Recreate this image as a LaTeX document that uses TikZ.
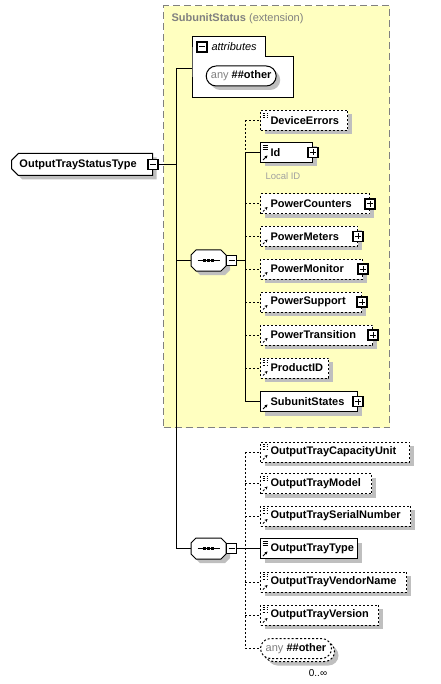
\documentclass[tikz,border=0pt]{standalone}
\usepackage{fontspec}
\setmainfont{Liberation Sans}
\usetikzlibrary{shapes,shadows,arrows.meta}

\definecolor{extfill}{HTML}{FFFFC0}
\definecolor{extline}{HTML}{808080}
\definecolor{notegray}{HTML}{A0A0A0}

\newcommand\eqicon{\draw[line width=0.8pt] ([shift={(2pt,-2.5pt)}]path picture bounding box.north west) -- +(5pt,0pt) +(0pt,-2.2pt) -- +(5pt,-2.2pt) +(0pt,-4.4pt) -- +(5pt,-4.4pt);}
\newcommand\reficon{\draw[line width=1pt,-{Stealth[length=3pt,width=3pt]}] ([shift={(2.5pt,2.5pt)}]path picture bounding box.south west) -- +(4.5pt,4.5pt);}
% octagon of a sequence compositor, drawn round an empty node
\newcommand\seqshape[1]{%
  \fill[black!25] ([shift={(9pt,-4pt)}]#1.north west) -- ([shift={(-1pt,-4pt)}]#1.north east)
    -- ([shift={(4pt,-9pt)}]#1.north east) -- ([shift={(4pt,1pt)}]#1.south east)
    -- ([shift={(-1pt,-4pt)}]#1.south east) -- ([shift={(9pt,-4pt)}]#1.south west)
    -- ([shift={(4pt,1pt)}]#1.south west) -- ([shift={(4pt,-9pt)}]#1.north west) -- cycle;
  \draw[fill=white] ([xshift=5pt]#1.north west) -- ([xshift=-5pt]#1.north east)
    -- ([yshift=-5pt]#1.north east) -- ([yshift=5pt]#1.south east)
    -- ([xshift=-5pt]#1.south east) -- ([xshift=5pt]#1.south west)
    -- ([yshift=5pt]#1.south west) -- ([yshift=-5pt]#1.north west) -- cycle;
  \draw ([xshift=-11pt]#1.center) -- ([xshift=11pt]#1.center);
  \fill ([xshift=-4pt]#1.center) +(-1.5pt,-1.5pt) rectangle +(1.5pt,1.5pt);
  \fill (#1.center) +(-1.5pt,-1.5pt) rectangle +(1.5pt,1.5pt);
  \fill ([xshift=4pt]#1.center) +(-1.5pt,-1.5pt) rectangle +(1.5pt,1.5pt);}

\tikzset{
  shade4/.style={general shadow={fill=black!25, shadow xshift=4pt, shadow yshift=-4pt}},
  elem/.style={draw, fill=white, font=\bfseries, anchor=west, align=left, text width=#1,
    minimum height=20pt, inner xsep=10pt, inner ysep=0pt, shade4},
  optdash/.style={dash pattern=on 2pt off 2pt},
  eqonly/.style={path picture={\eqicon}},
  refonly/.style={path picture={\reficon}},
  eqref/.style={path picture={\eqicon\reficon}},
  pm/.style={draw, fill=white, line width=1.3pt, minimum size=10pt, inner sep=0pt},
  plusbox/.style={pm, path picture={\draw[line width=1pt]
    ([xshift=2pt]path picture bounding box.west) -- ([xshift=-2pt]path picture bounding box.east)
    ([yshift=-2pt]path picture bounding box.north) -- ([yshift=2pt]path picture bounding box.south);}},
  minusbox/.style={pm, path picture={\draw[line width=1pt]
    ([xshift=2pt]path picture bounding box.west) -- ([xshift=-2pt]path picture bounding box.east);}},
  seqbox/.style={anchor=west, minimum width=34pt, minimum height=20pt, inner sep=0pt},
  anyelem/.style={rounded rectangle, draw, fill=white, anchor=west, minimum width=#1,
    minimum height=20pt, inner xsep=2pt, inner ysep=0pt, shade4}
}

\begin{document}
\fontsize{11}{13}\selectfont
\begin{tikzpicture}[x=1pt,y=-1pt,line width=1pt]
\useasboundingbox (0,0) rectangle (440,684);

% extension area
\node[draw=extline, fill=extfill, line width=1.2pt, dash pattern=on 7pt off 4pt, anchor=north west,
  minimum width=226pt, minimum height=422pt] (SubunitStatus) at (163,5) {};
\node[anchor=west, text=extline, inner sep=0pt] (SubunitStatusTitle) at (171,19) {\bfseries SubunitStatus \mdseries(extension)};

% root
\node[chamfered rectangle, chamfered rectangle corners={north west,south west}, chamfered rectangle xsep=3pt,
  draw, fill=white, font=\bfseries, anchor=west, align=left, text width=125pt, inner xsep=5pt, inner ysep=0pt,
  minimum height=22pt, shade4] (OutputTrayStatusType) at (11,164.5) {OutputTrayStatusType};
\node[minusbox] (OutputTrayStatusTypeMinus) at (OutputTrayStatusType.east) {};

% attributes
\node[anchor=north west, minimum width=100pt, minimum height=40pt, inner sep=0pt] (attrBody) at (192,57) {};
\node[anchor=south west, minimum width=72pt, minimum height=19pt, inner sep=0pt] (attrTab) at (192,57) {};
\draw[fill=white] (attrTab.south west) |- (attrTab.north east) |- (attrBody.north east) |- (attrBody.south west) -- cycle;
\node[minusbox] (attrMinus) at ([xshift=10pt]attrTab.west) {};
\node[anchor=west, font=\itshape, inner sep=0pt] (attrLabel) at ([xshift=19pt]attrTab.west) {attributes};
\node[anyelem=74pt] (attrAny) at (205.7,76) {\textcolor{gray}{any} \textbf{\#\#other}};

% trunk
\coordinate (trunk) at (176,68.5);
\node[seqbox] (seq1) at (191,260.5) {};
\seqshape{seq1}
\node[minusbox, anchor=west] (seq1Minus) at (seq1.east) {};
\node[seqbox] (seq2) at (191,548.5) {};
\seqshape{seq2}
\node[minusbox, anchor=west] (seq2Minus) at (seq2.east) {};
\draw (OutputTrayStatusTypeMinus.east) -- (OutputTrayStatusTypeMinus.east -| trunk);
\draw (attrBody.west |- trunk) -- (trunk) |- (seq2.west);
\draw (seq1.west -| trunk) -- (seq1.west);

% first sequence
\node[elem=67pt, optdash, eqonly] (DeviceErrors) at (260,120.5) {DeviceErrors};
\node[elem=32pt, eqref] (Id) at (260,152.5) {Id};
\node[plusbox] (IdPlus) at (Id.east) {};
\node[anchor=west, text=notegray, inner sep=0pt, font=\fontsize{9.5}{11}\selectfont] (IdNote) at (265,176) {Local ID};
\node[elem=89pt, optdash, refonly] (PowerCounters) at (260,204) {PowerCounters};
\node[plusbox] (PowerCountersPlus) at (PowerCounters.east) {};
\node[elem=77pt, optdash, refonly] (PowerMeters) at (260,236.5) {PowerMeters};
\node[plusbox] (PowerMetersPlus) at (PowerMeters.east) {};
\node[elem=82pt, optdash, refonly] (PowerMonitor) at (260,269) {PowerMonitor};
\node[plusbox] (PowerMonitorPlus) at (PowerMonitor.east) {};
\node[elem=81pt, optdash, refonly] (PowerSupport) at (260,302) {PowerSupport};
\node[plusbox] (PowerSupportPlus) at (PowerSupport.east) {};
\node[elem=92pt, optdash, refonly] (PowerTransition) at (260,335) {PowerTransition};
\node[plusbox] (PowerTransitionPlus) at (PowerTransition.east) {};
\node[elem=48pt, optdash, eqref] (ProductID) at (260,368) {ProductID};
\node[elem=77pt, refonly] (SubunitStates) at (260,401.5) {SubunitStates};
\node[plusbox] (SubunitStatesPlus) at (SubunitStates.east) {};

\coordinate (bus1) at (245,260.5);
\draw (seq1Minus.east) -- (bus1);
\draw[optdash] (DeviceErrors.west -| bus1) -- (Id.west -| bus1);
\draw (Id.west -| bus1) -- (SubunitStates.west -| bus1);
\draw[optdash] (DeviceErrors.west -| bus1) -- (DeviceErrors.west);
\draw (Id.west -| bus1) -- (Id.west);
\draw[optdash] (PowerCounters.west -| bus1) -- (PowerCounters.west);
\draw[optdash] (PowerMeters.west -| bus1) -- (PowerMeters.west);
\draw[optdash] (PowerMonitor.west -| bus1) -- (PowerMonitor.west);
\draw[optdash] (PowerSupport.west -| bus1) -- (PowerSupport.west);
\draw[optdash] (PowerTransition.west -| bus1) -- (PowerTransition.west);
\draw[optdash] (ProductID.west -| bus1) -- (ProductID.west);
\draw (SubunitStates.west -| bus1) -- (SubunitStates.west);

% second sequence
\node[elem=129pt, optdash, eqref] (OutputTrayCapacityUnit) at (260,452) {OutputTrayCapacityUnit};
\node[elem=91pt, optdash, eqref] (OutputTrayModel) at (260,483.5) {OutputTrayModel};
\node[elem=130pt, optdash, eqref] (OutputTraySerialNumber) at (260,516) {OutputTraySerialNumber};
\node[elem=77pt, eqref] (OutputTrayType) at (260,548.5) {OutputTrayType};
\node[elem=126pt, optdash, eqref] (OutputTrayVendorName) at (260,582) {OutputTrayVendorName};
\node[elem=98pt, optdash, eqref] (OutputTrayVersion) at (260,615) {OutputTrayVersion};
\node[anyelem=75pt, optdash, general shadow={fill=black!25, shadow xshift=7pt, shadow yshift=-7pt},
  copy shadow={shadow xshift=3pt, shadow yshift=-3pt}] (otherAny) at (260,648.5) {\textcolor{gray}{any} \textbf{\#\#other}};
\node[inner sep=0pt, font=\fontsize{10}{12}\selectfont] (otherAnyOccurs) at (318,673) {0..∞};

\coordinate (bus2) at (245,548.5);
\draw (seq2Minus.east) -- (bus2);
\draw[optdash] (OutputTrayCapacityUnit.west -| bus2) -- (otherAny.west -| bus2);
\draw[optdash] (OutputTrayCapacityUnit.west -| bus2) -- (OutputTrayCapacityUnit.west);
\draw[optdash] (OutputTrayModel.west -| bus2) -- (OutputTrayModel.west);
\draw[optdash] (OutputTraySerialNumber.west -| bus2) -- (OutputTraySerialNumber.west);
\draw (OutputTrayType.west -| bus2) -- (OutputTrayType.west);
\draw[optdash] (OutputTrayVendorName.west -| bus2) -- (OutputTrayVendorName.west);
\draw[optdash] (OutputTrayVersion.west -| bus2) -- (OutputTrayVersion.west);
\draw[optdash] (otherAny.west -| bus2) -- (otherAny.west);
\end{tikzpicture}
\end{document}
